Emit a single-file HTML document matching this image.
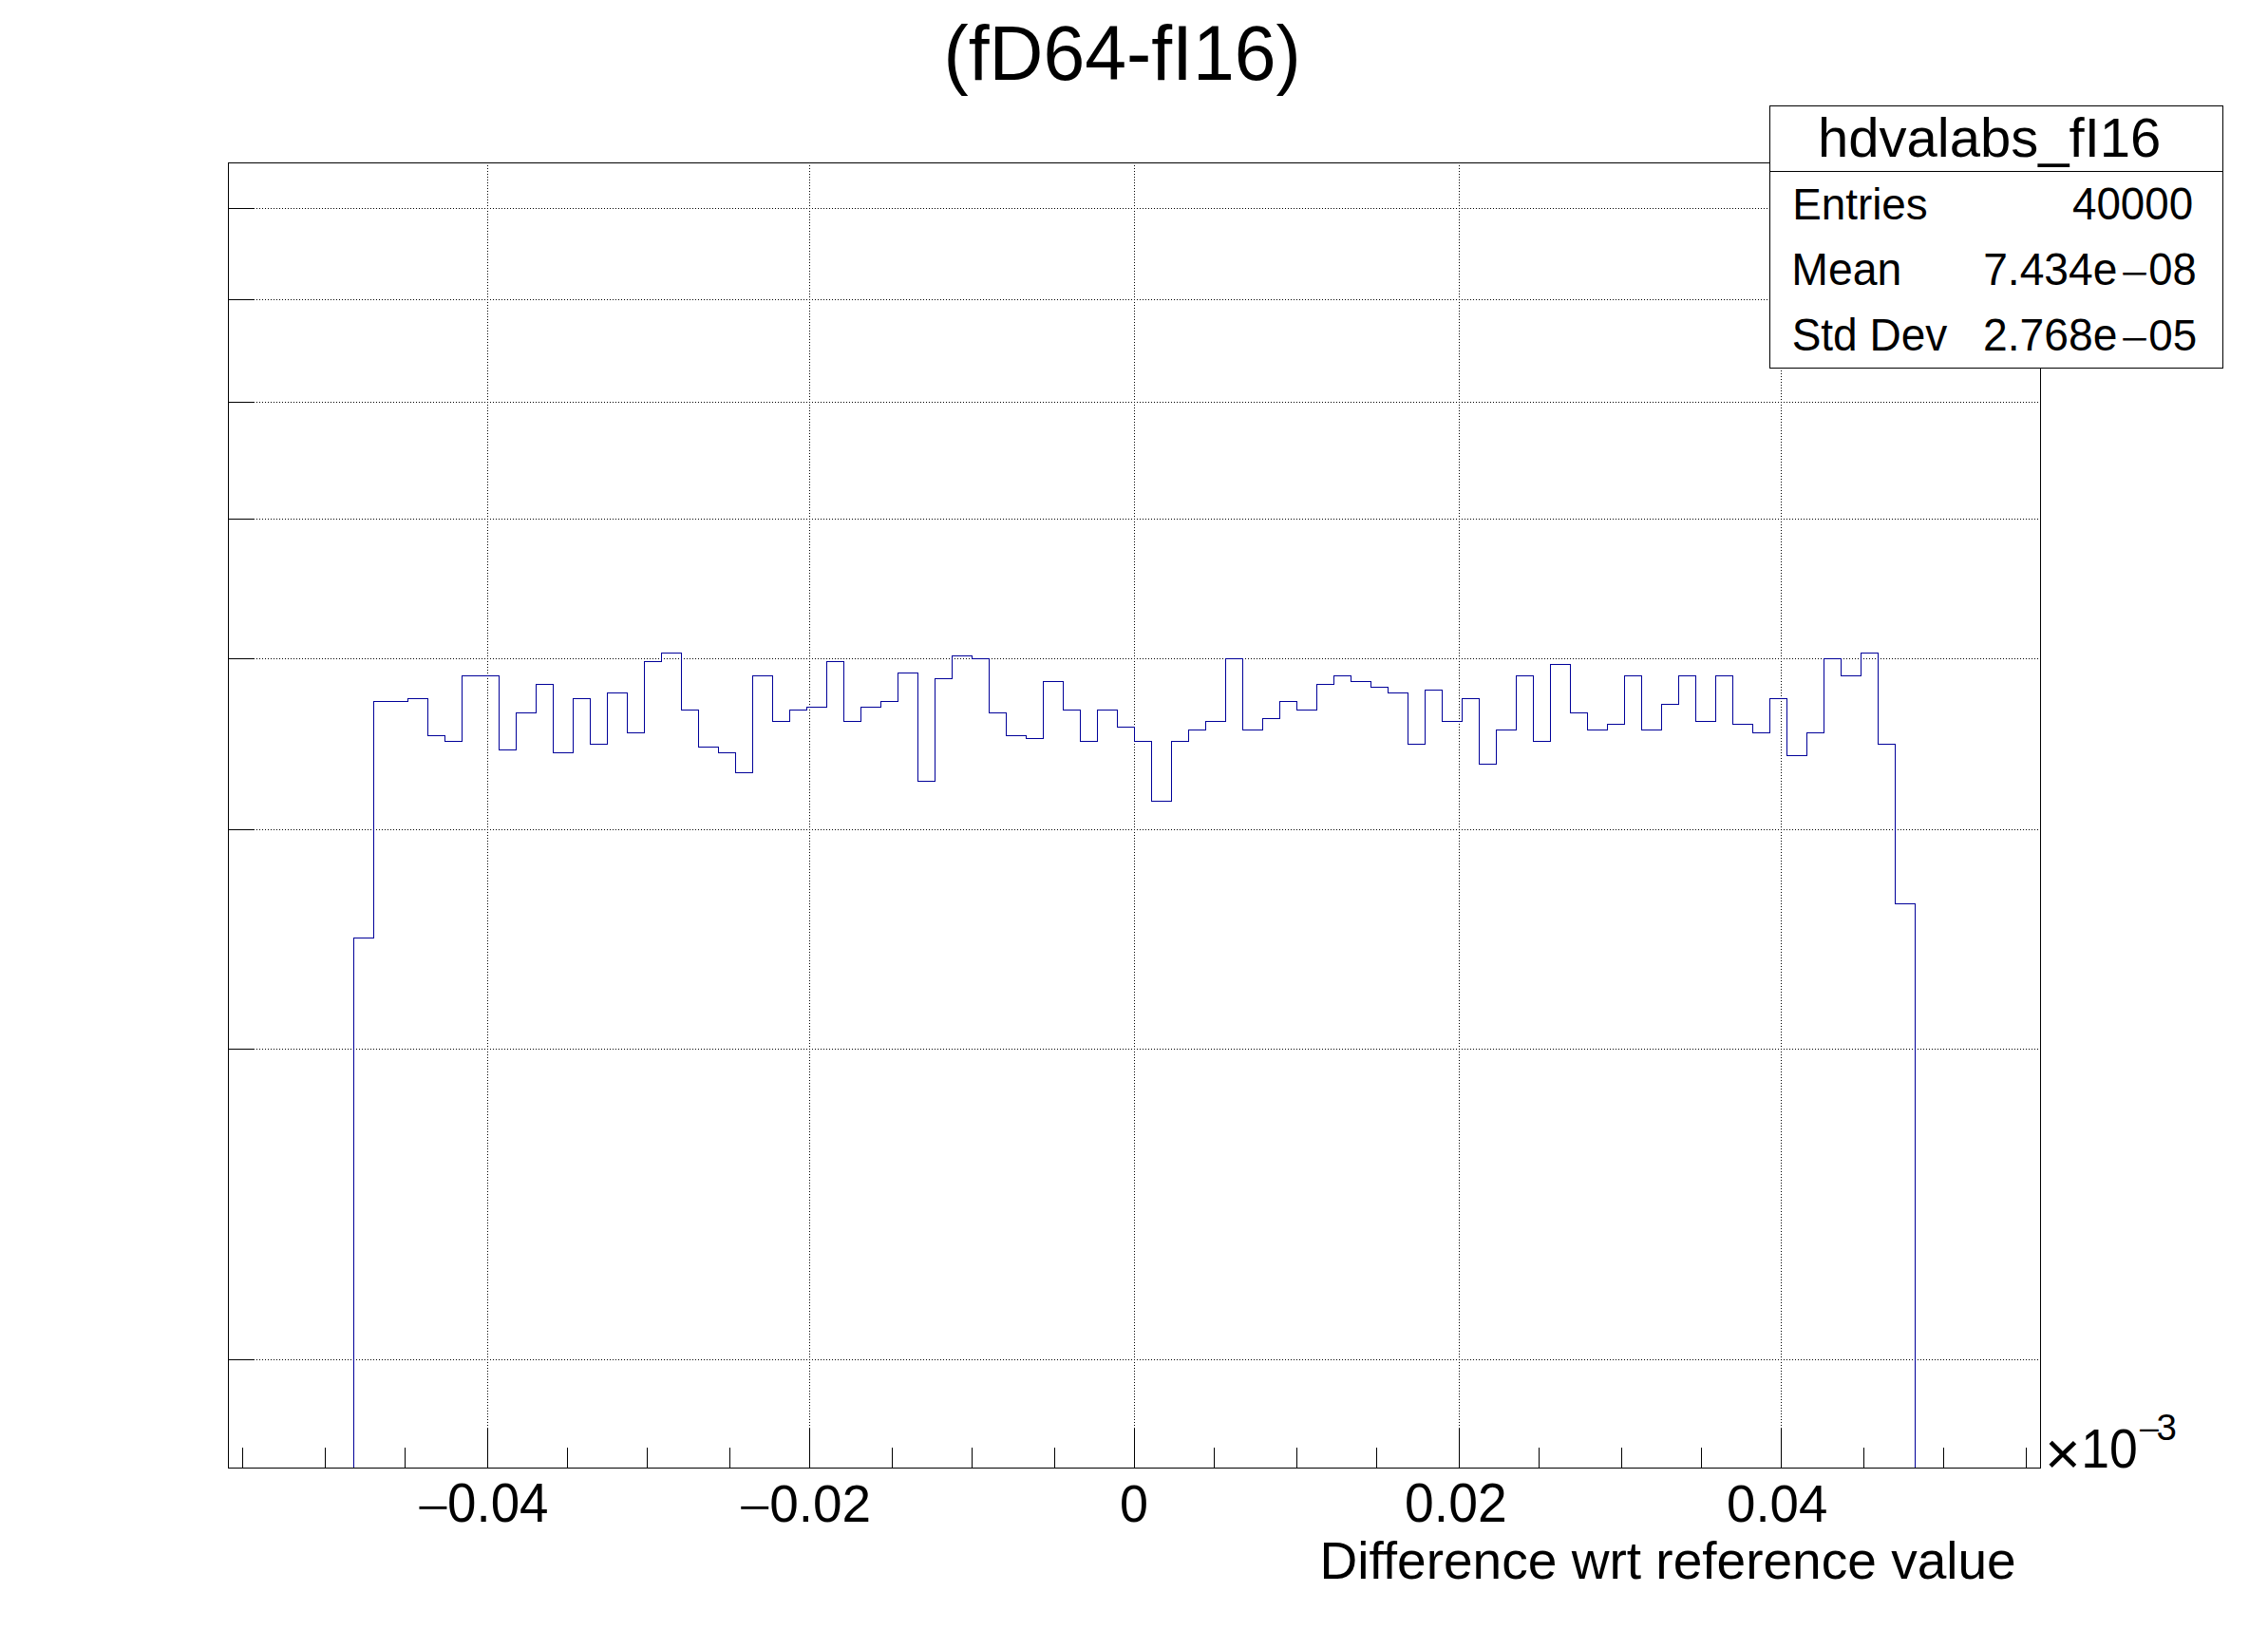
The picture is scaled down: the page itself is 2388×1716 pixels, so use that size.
<!DOCTYPE html>
<html><head><meta charset="utf-8"><title>hdvalabs_fI16</title>
<style>
html,body{margin:0;padding:0;background:#fff;}
body{width:2388px;height:1716px;overflow:hidden;}
svg{display:block;}
text{font-family:"Liberation Sans",Arial,Helvetica,sans-serif;fill:#000;}
</style></head>
<body>
<svg width="2388" height="1716" viewBox="0 0 2388 1716">
<rect x="0" y="0" width="2388" height="1716" fill="#fff"/>
<g shape-rendering="crispEdges">
<line x1="240" y1="219.5" x2="2149" y2="219.5" stroke="#000" stroke-width="1" stroke-dasharray="1 2"/>
<line x1="240" y1="315.5" x2="2149" y2="315.5" stroke="#000" stroke-width="1" stroke-dasharray="1 2"/>
<line x1="240" y1="423.5" x2="2149" y2="423.5" stroke="#000" stroke-width="1" stroke-dasharray="1 2"/>
<line x1="240" y1="546.5" x2="2149" y2="546.5" stroke="#000" stroke-width="1" stroke-dasharray="1 2"/>
<line x1="240" y1="693.5" x2="2149" y2="693.5" stroke="#000" stroke-width="1" stroke-dasharray="1 2"/>
<line x1="240" y1="873.5" x2="2149" y2="873.5" stroke="#000" stroke-width="1" stroke-dasharray="1 2"/>
<line x1="240" y1="1104.5" x2="2149" y2="1104.5" stroke="#000" stroke-width="1" stroke-dasharray="1 2"/>
<line x1="240" y1="1431.5" x2="2149" y2="1431.5" stroke="#000" stroke-width="1" stroke-dasharray="1 2"/>
<line x1="513.5" y1="171" x2="513.5" y2="1546" stroke="#000" stroke-width="1" stroke-dasharray="1 2"/>
<line x1="852.5" y1="171" x2="852.5" y2="1546" stroke="#000" stroke-width="1" stroke-dasharray="1 2"/>
<line x1="1194.5" y1="171" x2="1194.5" y2="1546" stroke="#000" stroke-width="1" stroke-dasharray="1 2"/>
<line x1="1536.5" y1="171" x2="1536.5" y2="1546" stroke="#000" stroke-width="1" stroke-dasharray="1 2"/>
<line x1="1875.5" y1="171" x2="1875.5" y2="1546" stroke="#000" stroke-width="1" stroke-dasharray="1 2"/>
<path d="M372.5,1545.5 L372.5,987.5 L393.5,987.5 L393.5,738.5 L411.5,738.5 L411.5,738.5 L429.5,738.5 L429.5,735.5 L450.5,735.5 L450.5,774.5 L468.5,774.5 L468.5,780.5 L486.5,780.5 L486.5,711.5 L507.5,711.5 L507.5,711.5 L525.5,711.5 L525.5,789.5 L543.5,789.5 L543.5,750.5 L564.5,750.5 L564.5,720.5 L582.5,720.5 L582.5,792.5 L603.5,792.5 L603.5,735.5 L621.5,735.5 L621.5,783.5 L639.5,783.5 L639.5,729.5 L660.5,729.5 L660.5,771.5 L678.5,771.5 L678.5,696.5 L696.5,696.5 L696.5,687.5 L717.5,687.5 L717.5,747.5 L735.5,747.5 L735.5,786.5 L756.5,786.5 L756.5,792.5 L774.5,792.5 L774.5,813.5 L792.5,813.5 L792.5,711.5 L813.5,711.5 L813.5,759.5 L831.5,759.5 L831.5,747.5 L849.5,747.5 L849.5,744.5 L870.5,744.5 L870.5,696.5 L888.5,696.5 L888.5,759.5 L906.5,759.5 L906.5,744.5 L927.5,744.5 L927.5,738.5 L945.5,738.5 L945.5,708.5 L966.5,708.5 L966.5,822.5 L984.5,822.5 L984.5,714.5 L1002.5,714.5 L1002.5,690.5 L1023.5,690.5 L1023.5,693.5 L1041.5,693.5 L1041.5,750.5 L1059.5,750.5 L1059.5,774.5 L1080.5,774.5 L1080.5,777.5 L1098.5,777.5 L1098.5,717.5 L1119.5,717.5 L1119.5,747.5 L1137.5,747.5 L1137.5,780.5 L1155.5,780.5 L1155.5,747.5 L1176.5,747.5 L1176.5,765.5 L1194.5,765.5 L1194.5,780.5 L1212.5,780.5 L1212.5,843.5 L1233.5,843.5 L1233.5,780.5 L1251.5,780.5 L1251.5,768.5 L1269.5,768.5 L1269.5,759.5 L1290.5,759.5 L1290.5,693.5 L1308.5,693.5 L1308.5,768.5 L1329.5,768.5 L1329.5,756.5 L1347.5,756.5 L1347.5,738.5 L1365.5,738.5 L1365.5,747.5 L1386.5,747.5 L1386.5,720.5 L1404.5,720.5 L1404.5,711.5 L1422.5,711.5 L1422.5,717.5 L1443.5,717.5 L1443.5,723.5 L1461.5,723.5 L1461.5,729.5 L1482.5,729.5 L1482.5,783.5 L1500.5,783.5 L1500.5,726.5 L1518.5,726.5 L1518.5,759.5 L1539.5,759.5 L1539.5,735.5 L1557.5,735.5 L1557.5,804.5 L1575.5,804.5 L1575.5,768.5 L1596.5,768.5 L1596.5,711.5 L1614.5,711.5 L1614.5,780.5 L1632.5,780.5 L1632.5,699.5 L1653.5,699.5 L1653.5,750.5 L1671.5,750.5 L1671.5,768.5 L1692.5,768.5 L1692.5,762.5 L1710.5,762.5 L1710.5,711.5 L1728.5,711.5 L1728.5,768.5 L1749.5,768.5 L1749.5,741.5 L1767.5,741.5 L1767.5,711.5 L1785.5,711.5 L1785.5,759.5 L1806.5,759.5 L1806.5,711.5 L1824.5,711.5 L1824.5,762.5 L1845.5,762.5 L1845.5,771.5 L1863.5,771.5 L1863.5,735.5 L1881.5,735.5 L1881.5,795.5 L1902.5,795.5 L1902.5,771.5 L1920.5,771.5 L1920.5,693.5 L1938.5,693.5 L1938.5,711.5 L1959.5,711.5 L1959.5,687.5 L1977.5,687.5 L1977.5,783.5 L1995.5,783.5 L1995.5,951.5 L2016.5,951.5 L2016.5,1545.5" fill="none" stroke="#000099" stroke-width="1" stroke-linecap="square"/>
<rect x="240" y="171" width="1909" height="1" fill="#000"/>
<rect x="240" y="1545" width="1909" height="1" fill="#000"/>
<rect x="240" y="171" width="1" height="1375" fill="#000"/>
<rect x="2148" y="171" width="1" height="1375" fill="#000"/>
<rect x="240" y="219" width="28" height="1" fill="#000"/>
<rect x="240" y="315" width="28" height="1" fill="#000"/>
<rect x="240" y="423" width="28" height="1" fill="#000"/>
<rect x="240" y="546" width="28" height="1" fill="#000"/>
<rect x="240" y="693" width="28" height="1" fill="#000"/>
<rect x="240" y="873" width="28" height="1" fill="#000"/>
<rect x="240" y="1104" width="28" height="1" fill="#000"/>
<rect x="240" y="1431" width="28" height="1" fill="#000"/>
<rect x="255" y="1524" width="1" height="22" fill="#000"/>
<rect x="342" y="1524" width="1" height="22" fill="#000"/>
<rect x="426" y="1524" width="1" height="22" fill="#000"/>
<rect x="513" y="1503" width="1" height="43" fill="#000"/>
<rect x="597" y="1524" width="1" height="22" fill="#000"/>
<rect x="681" y="1524" width="1" height="22" fill="#000"/>
<rect x="768" y="1524" width="1" height="22" fill="#000"/>
<rect x="852" y="1503" width="1" height="43" fill="#000"/>
<rect x="939" y="1524" width="1" height="22" fill="#000"/>
<rect x="1023" y="1524" width="1" height="22" fill="#000"/>
<rect x="1110" y="1524" width="1" height="22" fill="#000"/>
<rect x="1194" y="1503" width="1" height="43" fill="#000"/>
<rect x="1278" y="1524" width="1" height="22" fill="#000"/>
<rect x="1365" y="1524" width="1" height="22" fill="#000"/>
<rect x="1449" y="1524" width="1" height="22" fill="#000"/>
<rect x="1536" y="1503" width="1" height="43" fill="#000"/>
<rect x="1620" y="1524" width="1" height="22" fill="#000"/>
<rect x="1707" y="1524" width="1" height="22" fill="#000"/>
<rect x="1791" y="1524" width="1" height="22" fill="#000"/>
<rect x="1875" y="1503" width="1" height="43" fill="#000"/>
<rect x="1962" y="1524" width="1" height="22" fill="#000"/>
<rect x="2046" y="1524" width="1" height="22" fill="#000"/>
<rect x="2133" y="1524" width="1" height="22" fill="#000"/>
<rect x="1863.5" y="111.5" width="477" height="276" fill="#fff" stroke="#000" stroke-width="1"/>
<rect x="1863" y="180" width="478" height="1" fill="#000"/>
</g>
<g>
<text><tspan x="993.50" y="84.00" font-size="81.90" textLength="376.26" lengthAdjust="spacingAndGlyphs">(fD64-fI16)</tspan></text>
<text><tspan x="1913.90" y="165.10" font-size="58.06" textLength="361.47" lengthAdjust="spacingAndGlyphs">hdvalabs_fI16</tspan></text>
<text><tspan x="1887.17" y="231.00" font-size="46.74" textLength="142.60" lengthAdjust="spacingAndGlyphs">Entries</tspan></text>
<text><tspan x="2181.93" y="231.00" font-size="47.49" textLength="127.28" lengthAdjust="spacingAndGlyphs">40000</tspan></text>
<text><tspan x="1886.26" y="300.00" font-size="47.54" textLength="116.01" lengthAdjust="spacingAndGlyphs">Mean</tspan></text>
<text><tspan x="2088.19" y="299.80" font-size="47.60" textLength="141.20" lengthAdjust="spacingAndGlyphs">7.434e</tspan><tspan x="2232.86" y="299.72" font-size="35.82" textLength="29.51" lengthAdjust="spacingAndGlyphs">&#8722;</tspan><tspan x="2262.26" y="299.80" font-size="47.79" textLength="50.42" lengthAdjust="spacingAndGlyphs">08</tspan></text>
<text><tspan x="1886.64" y="368.90" font-size="47.17" textLength="163.66" lengthAdjust="spacingAndGlyphs">Std Dev</tspan></text>
<text><tspan x="2087.92" y="369.00" font-size="47.40" textLength="141.48" lengthAdjust="spacingAndGlyphs">2.768e</tspan><tspan x="2232.86" y="368.72" font-size="35.82" textLength="29.51" lengthAdjust="spacingAndGlyphs">&#8722;</tspan><tspan x="2262.18" y="369.00" font-size="47.13" textLength="50.95" lengthAdjust="spacingAndGlyphs">05</tspan></text>
<text><tspan x="438.50" y="1601.45" font-size="41.76" textLength="34.90" lengthAdjust="spacingAndGlyphs">&#8722;</tspan><tspan x="471.05" y="1601.90" font-size="56.55" textLength="106.50" lengthAdjust="spacingAndGlyphs">0.04</tspan></text>
<text><tspan x="777.26" y="1601.45" font-size="41.76" textLength="34.90" lengthAdjust="spacingAndGlyphs">&#8722;</tspan><tspan x="810.23" y="1601.90" font-size="56.32" textLength="106.90" lengthAdjust="spacingAndGlyphs">0.02</tspan></text>
<text><tspan x="1179.00" y="1601.90" font-size="56.38" textLength="29.99" lengthAdjust="spacingAndGlyphs">0</tspan></text>
<text><tspan x="1479.10" y="1601.90" font-size="56.47" textLength="107.54" lengthAdjust="spacingAndGlyphs">0.02</tspan></text>
<text><tspan x="1818.07" y="1601.90" font-size="56.27" textLength="106.32" lengthAdjust="spacingAndGlyphs">0.04</tspan></text>
<text><tspan x="2152.96" y="1551.54" font-size="63.65" textLength="37.71" lengthAdjust="spacingAndGlyphs">&#215;</tspan><tspan x="2191.20" y="1544.80" font-size="56.53" textLength="59.53" lengthAdjust="spacingAndGlyphs">10</tspan><tspan x="2251.37" y="1515.77" font-size="30.40" textLength="23.82" lengthAdjust="spacingAndGlyphs">&#8722;</tspan><tspan x="2270.45" y="1515.95" font-size="38.55" textLength="21.38" lengthAdjust="spacingAndGlyphs">3</tspan></text>
<text><tspan x="1389.47" y="1662.00" font-size="55.60" textLength="733.26" lengthAdjust="spacingAndGlyphs">Difference wrt reference value</tspan></text>
</g>
</svg>
</body></html>
